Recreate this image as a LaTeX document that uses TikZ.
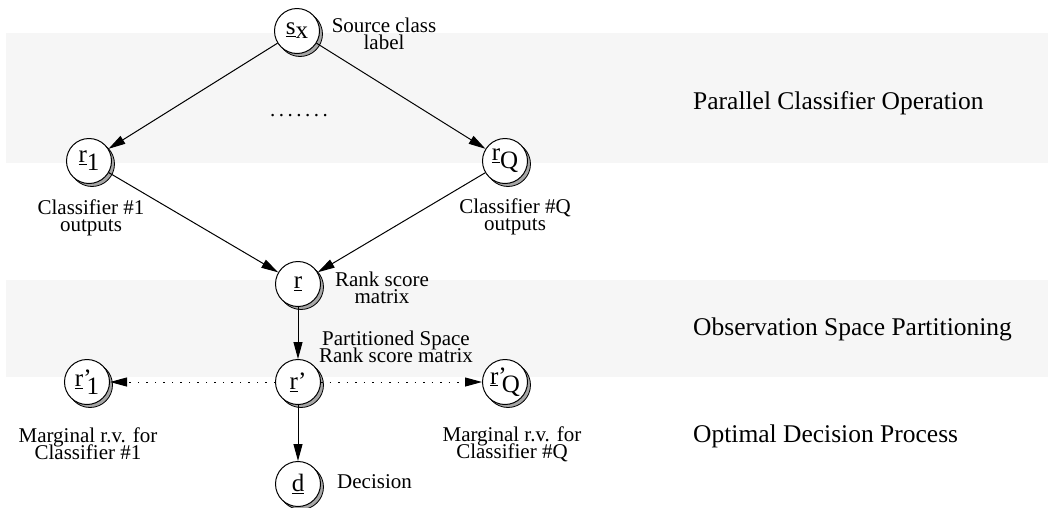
\documentclass[tikz,border=0pt]{standalone}
\usepackage{fontspec}
\setmainfont{Liberation Serif}
\usetikzlibrary{arrows.meta,shadows}
\definecolor{bandgray}{HTML}{F6F6F6}
\newcommand\nv[2]{\underline{#1}\raisebox{-8pt}{#2}}
\newcommand\dd{.\hspace{3.5pt}}
\newcommand\lblfont{\fontsize{21}{17}\selectfont\lineskiplimit=-30pt\relax\lineskip=0pt\relax}
\begin{document}
\begin{tikzpicture}[x=1pt,y=-1pt,
  rv/.style={circle,draw=black,line width=1pt,fill=white,minimum size=45pt,inner sep=0pt,
    font=\fontsize{25}{25}\selectfont,
    drop shadow={shadow xshift=3pt,shadow yshift=-3pt,fill=gray!70,draw=black,line width=0.8pt,opacity=1}},
  lbl/.style={align=center,inner sep=0pt,font=\lblfont},
  stage/.style={anchor=base west,inner sep=0pt,font=\fontsize{25.5}{28}\selectfont},
  arr/.style={-{Triangle[length=17pt,width=9pt]},line width=1pt},
  darr/.style={arr,dash pattern=on 1.5pt off 7pt},
  band/.style={fill=bandgray,draw=none}]
\useasboundingbox (0,0) rectangle (1048,507);
% bands
\fill[band] (6,33) rectangle (1048,163);
\fill[band] (6,280) rectangle (1048,377);
% stage labels
\node[stage] (st1) at (693,109) {Parallel Classifier Operation};
\node[stage] (st2) at (693,335) {Observation Space Partitioning};
\node[stage] (st3) at (693,442) {Optimal Decision Process};
% nodes
\node[rv] (sx)  at (297,31)  {\underline{s}\raisebox{-4pt}{x}};
\node[rv] (r1)  at (89,161)  {\nv{r}{1}};
\node[rv] (rQ)  at (505,161) {\nv{r}{Q}};
\node[rv] (r)   at (298,284) {\underline{r}};
\node[rv] (rp)  at (298,382) {\underline{r}’};
\node[rv] (rp1) at (87,382)  {\underline{r}’\kern-5pt\raisebox{-8pt}{1}};
\node[rv] (rpQ) at (505,382) {\underline{r}’\kern-5pt\raisebox{-8pt}{Q}};
\node[rv] (d)   at (298,484) {\underline{d}};
% labels
\node[lbl] (lsx) at (384,34) {Source class\\label};
\node[lbl] (dots) at (299,116) {\dd\dd\dd\dd\dd\dd.};
\node[lbl] (lr1) at (91,218) {Classifier \#1\\outputs};
\node[lbl] (lrQ) at (515,217) {Classifier \#Q\\outputs};
\node[lbl] (lr) at (382,288) {Rank score\\matrix};
\node[lbl] (lrp) at (396,347) {Partitioned Space\\Rank score matrix};
\node[lbl] (lrp1) at (88,444) {Marginal r.v. for\\Classifier \#1};
\node[lbl] (lrpQ) at (512,444) {Marginal r.v. for\\Classifier \#Q};
\node[lbl,anchor=west] (ld) at (337,482) {Decision};
% connectors
\draw[arr] (sx) -- (r1);
\draw[arr] (sx) -- (rQ);
\draw[arr] (r1) -- (r);
\draw[arr] (rQ) -- (r);
\draw[arr] (r) -- (rp);
\draw[arr] (rp) -- (d);
\draw[darr] (rp) -- (rp1);
\draw[darr] (rp) -- (rpQ);
\end{tikzpicture}
\end{document}
